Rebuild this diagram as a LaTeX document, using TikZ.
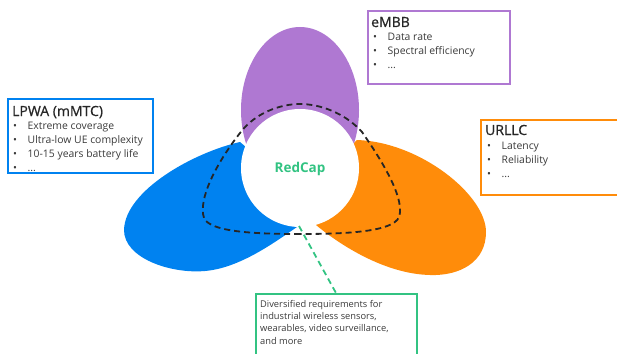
\documentclass[tikz,border=0pt]{standalone}
\usepackage{fontspec}
\setmainfont{Open Sans}
\definecolor{ebl}{HTML}{0082F0}
\definecolor{epu}{HTML}{AF78D2}
\definecolor{eor}{HTML}{FF8C0A}
\definecolor{egr}{HTML}{32C382}
\definecolor{etx}{HTML}{3A3A3A}
\tikzset{
  infobox/.style={line width=1.8pt},
  boxtitle/.style={anchor=base west, inner sep=0pt, font=\fontsize{14}{15}\selectfont\addfontfeature{FakeBold=0.8}, text=black!85},
  bulletlist/.style={anchor=base west, inner sep=0pt, align=left, font=\fontsize{10.4}{14}\selectfont, text=etx},
  redcapdash/.style={line width=1.8pt, dash pattern=on 6pt off 4pt, color=black!85},
}
\newcommand{\bl}[1]{\makebox[14.5pt][l]{\textbullet}#1}
\begin{document}
\begin{tikzpicture}[x=1pt,y=-1pt]
\useasboundingbox (0,0) rectangle (617,353);
% petals
\fill[ebl] (240,142) .. controls (195,152) and (125,190) .. (124,230)
  .. controls (124,258) and (170,274) .. (205,271)
  .. controls (240,268) and (275,242) .. (297,227)
  -- (285,180) -- cycle;
\fill[eor] (357,140) .. controls (420,142) and (486,195) .. (486,232)
  .. controls (486,262) and (460,276) .. (430,275)
  .. controls (385,274) and (340,245) .. (316,225)
  -- (315,180) -- cycle;
\fill[epu] (300,110) ellipse [x radius=59, y radius=83];
\node[circle, fill=white, minimum size=118pt, inner sep=0pt] (core) at (300,168) {};
\node[text=egr, font=\fontsize{13.5}{15}\selectfont\bfseries] (redcap) at (300,169) {RedCap};
% dashed outline
\draw[redcapdash] (300,234)
  .. controls (255,234) and (210,232) .. (204,218)
  .. controls (198,200) and (215,165) .. (240,133)
  .. controls (255,113) and (280,104) .. (300,104)
  .. controls (320,104) and (345,113) .. (362,132)
  .. controls (385,165) and (405,200) .. (399,217)
  .. controls (393,232) and (345,234) .. (300,234) -- cycle;
% LPWA box
\node[infobox, draw=ebl, rectangle, anchor=north west, minimum width=145pt, minimum height=74pt, inner sep=0pt] (lpwa) at (7,98) {};
\node[boxtitle] (lpwat) at (12,116) {LPWA (mMTC)};
\node[bulletlist] (lpwal) at (13,171) {\bl{Extreme coverage}\\\bl{Ultra-low UE complexity}\\\bl{10-15 years battery life}\\\bl{...}};
% eMBB box
\node[infobox, draw=epu, rectangle, anchor=north west, minimum width=142pt, minimum height=73pt, inner sep=0pt] (embb) at (367,10) {};
\node[boxtitle] (embbt) at (371,27) {eMBB};
\node[bulletlist] (embbl) at (373,68) {\bl{Data rate}\\\bl{Spectral efficiency}\\\bl{...}};
% URLLC box
\node[infobox, draw=eor, rectangle, anchor=north west, minimum width=145pt, minimum height=75pt, inner sep=0pt] (urllc) at (480,119) {};
\node[boxtitle] (urllct) at (485,135) {URLLC};
\node[bulletlist] (urllcl) at (487,177) {\bl{Latency}\\\bl{Reliability}\\\bl{...}};
% RedCap box
\node[infobox, draw=egr, rectangle, anchor=north west, minimum width=161pt, minimum height=70pt, inner sep=0pt] (req) at (255,293) {};
\node[anchor=base west, inner sep=0pt, align=left, font=\fontsize{9.3}{12.4}\selectfont, text=etx] (reqt) at (260,344.2) {Diversified requirements for\\industrial wireless sensors,\\wearables, video surveillance,\\and more};
\coordinate (gstart) at (299,226);
\draw[line width=1.8pt, dash pattern=on 6pt off 4pt, egr] (gstart) -- (req.north -| 336,0);
\end{tikzpicture}
\end{document}
